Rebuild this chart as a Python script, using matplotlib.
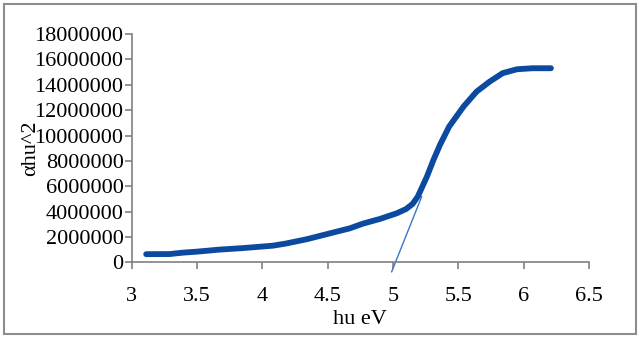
import matplotlib.pyplot as plt
from matplotlib.patches import Rectangle
from matplotlib.ticker import FuncFormatter

# Values
energy = [3.11, 3.29, 3.39, 3.50, 3.67, 3.85, 4.08, 4.18, 4.34, 4.52, 4.67,
          4.77, 4.90, 5.03, 5.10, 5.15, 5.19, 5.26, 5.31, 5.36, 5.43, 5.54,
          5.64, 5.74, 5.84, 5.95, 6.07, 6.21]
alpha_hv2 = [0.64e6, 0.65e6, 0.76e6, 0.84e6, 1.0e6, 1.12e6, 1.31e6, 1.48e6,
             1.82e6, 2.29e6, 2.68e6, 3.05e6, 3.42e6, 3.87e6, 4.2e6, 4.6e6,
             5.18e6, 6.76e6, 8.07e6, 9.26e6, 10.7e6, 12.28e6, 13.46e6,
             14.25e6, 14.92e6, 15.23e6, 15.31e6, 15.31e6]

# tangent (extrapolation) line ends
tangent_x = [4.99, 5.22]
tangent_y = [-0.75e6, 5.18e6]

x_ticks = [3, 3.5, 4, 4.5, 5, 5.5, 6, 6.5]
y_ticks = list(range(0, 18000001, 2000000))

plt.rcParams['font.family'] = ['Liberation Serif', 'DejaVu Serif']

fig = plt.figure(figsize=(6.4, 3.38), dpi=100)
ax = fig.add_axes([0.206, 0.224, 0.714, 0.675])

ax.plot(energy, alpha_hv2, color='#0b4a9e', linewidth=4.2,
        solid_capstyle='round', solid_joinstyle='round')
ax.plot(tangent_x, tangent_y, color='#3f74c4', linewidth=1.0, clip_on=False)

ax.set_xlim(3, 6.5)
ax.set_ylim(0, 18000000)
ax.set_xticks(x_ticks)
ax.set_xticklabels(['3', '3.5', '4', '4.5', '5', '5.5', '6', '6.5'])
ax.set_yticks(y_ticks)
ax.yaxis.set_major_formatter(FuncFormatter(lambda v, p: f'{int(v)}'))

for side in ['top', 'right']:
    ax.spines[side].set_visible(False)
for side in ['left', 'bottom']:
    ax.spines[side].set_color('#808080')
    ax.spines[side].set_linewidth(1.2)
ax.tick_params(axis='both', colors='#808080', labelcolor='black',
               labelsize=16, length=5, width=1.2, direction='out')
ax.tick_params(axis='x', pad=13)
ax.tick_params(axis='y', pad=1)

ax.set_xlabel('hu eV', fontsize=16, labelpad=3)
# label sits over the tick labels in the reference too
ax.yaxis.set_label_coords(-0.20, 0.52)
ax.set_ylabel('αhu^2', fontsize=16)

# outer frame around the whole picture
fig.patches.append(Rectangle((4 / 640, 4 / 338), 632 / 640, 330 / 338,
                             transform=fig.transFigure, fill=False,
                             edgecolor='#8c8c8c', linewidth=1.5))

fig.savefig('out.png', dpi=100)
